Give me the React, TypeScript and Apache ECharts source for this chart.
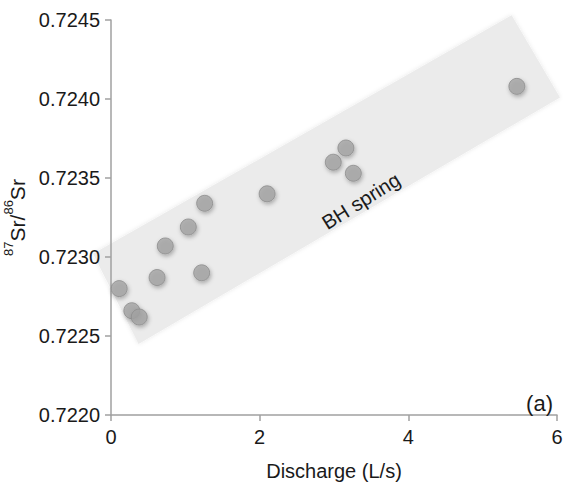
import React, { useEffect, useRef } from "react";
import * as echarts from "echarts";

const discharge = [0.11, 0.28, 0.38, 0.62, 0.73, 1.04, 1.26, 1.22, 2.1, 2.99, 3.16, 3.26, 5.46];
const srRatio = [0.7228, 0.72266, 0.72262, 0.72287, 0.72307, 0.72319, 0.72334, 0.7229, 0.7234, 0.7236, 0.72369, 0.72353, 0.72408];
const bandCorners = [
  [-0.24, 0.72302],
  [0.37, 0.72245],
  [6.04, 0.72401],
  [5.39, 0.72453],
];
const xTicks = { min: 0, max: 6, interval: 2 };
const yTicks = { min: 0.722, max: 0.7245, interval: 0.0005 };

const FONT = "'Liberation Sans', Arial, sans-serif";
const TXT = "#1a1a1a";
const AXIS = "#a0a0a0";

export default function App() {
  const ref = useRef<HTMLDivElement>(null);
  useEffect(() => {
    if (!ref.current) return;
    const chart = echarts.init(ref.current, null, { renderer: "svg" });
    const points = discharge.map((x, i) => [x, srRatio[i]]);
    chart.setOption({
      animation: false,
      grid: { left: 111, right: 8, top: 20, bottom: 75, containLabel: false, outerBoundsMode: "none" },
      xAxis: {
        type: "value",
        min: xTicks.min,
        max: xTicks.max,
        interval: xTicks.interval,
        name: "Discharge (L/s)",
        nameLocation: "middle",
        nameGap: 46,
        nameTextStyle: { fontSize: 20, color: TXT, fontFamily: FONT },
        axisLine: { lineStyle: { color: AXIS, width: 1.5 } },
        axisTick: { show: true, length: 6, lineStyle: { color: AXIS, width: 1.5 } },
        axisLabel: { fontSize: 20, color: TXT, fontFamily: FONT, margin: 12 },
        splitLine: { show: false },
      },
      yAxis: {
        type: "value",
        min: yTicks.min,
        max: yTicks.max,
        interval: yTicks.interval,
        name: "{sup|87}{main|Sr/}{sup|86}{main|Sr}",
        nameLocation: "middle",
        nameRotate: 90,
        nameGap: 77,
        nameTextStyle: {
          fontSize: 21,
          color: TXT,
          fontFamily: FONT,
          rich: {
            main: { fontSize: 21, color: TXT, fontFamily: FONT, lineHeight: 26, verticalAlign: "bottom" },
            sup: { fontSize: 13, color: TXT, fontFamily: FONT, lineHeight: 26, verticalAlign: "top" },
          },
        },
        axisLine: { show: true, lineStyle: { color: AXIS, width: 1.5 } },
        axisTick: { show: true, length: 6, lineStyle: { color: AXIS, width: 1.5 } },
        axisLabel: {
          fontSize: 20,
          color: TXT,
          fontFamily: FONT,
          margin: 11,
          formatter: (v: number) => v.toFixed(4),
        },
        splitLine: { show: false },
      },
      graphic: [
        {
          type: "text",
          x: 361,
          y: 201,
          rotation: (32 * Math.PI) / 180,
          z: 10,
          style: {
            text: "BH spring",
            fontSize: 20,
            fontFamily: FONT,
            fill: TXT,
            textAlign: "center",
            textVerticalAlign: "middle",
          },
        },
        {
          type: "text",
          right: 12,
          top: 392,
          z: 10,
          style: { text: "(a)", fontSize: 22, fontFamily: FONT, fill: TXT },
        },
      ],
      series: [
        {
          type: "custom",
          silent: true,
          clip: false,
          z: -1,
          data: [[0, 0]],
          renderItem: (params: any, api: any) => {
            const pts = bandCorners.map((c) => api.coord(c));
            return {
              type: "polygon",
              shape: { points: pts },
              style: {
                fill: "#ebebeb",
                shadowBlur: 4,
                shadowColor: "rgba(0,0,0,0.10)",
              },
            };
          },
        },
        {
          type: "scatter",
          z: 5,
          symbol: "circle",
          symbolSize: 16,
          data: points,
          itemStyle: {
            color: "#a4a4a4",
            borderColor: "#8c8c8c",
            borderWidth: 1,
            shadowBlur: 4,
            shadowColor: "rgba(0,0,0,0.35)",
            shadowOffsetX: 1,
            shadowOffsetY: 2,
          },
        },
      ],
    });
    return () => chart.dispose();
  }, []);
  return <div ref={ref} style={{ width: 565, height: 490, position: "absolute", left: 0, top: 0 }} />;
}
